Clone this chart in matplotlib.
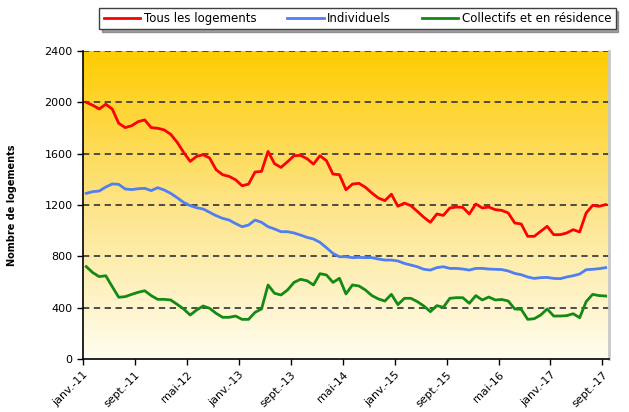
import numpy as np
import matplotlib.pyplot as plt
from matplotlib.colors import LinearSegmentedColormap

plt.rcParams['font.family'] = ['DejaVu Sans']

# séries mensuelles, janv-11 -> sept-17
tous = [2000, 1977, 1948, 1985, 1948, 1837, 1803, 1818, 1850, 1863,
        1803, 1798, 1785, 1751, 1689, 1610, 1540, 1579, 1592, 1566,
        1475, 1436, 1423, 1397, 1350, 1363, 1457, 1462, 1618, 1522,
        1493, 1537, 1584, 1587, 1561, 1519, 1584, 1545, 1441, 1436,
        1319, 1363, 1369, 1338, 1293, 1254, 1234, 1284, 1190, 1215,
        1195, 1150, 1104, 1065, 1130, 1119, 1177, 1184, 1182, 1130,
        1208, 1177, 1184, 1164, 1158, 1138, 1060, 1052, 956, 956,
        995, 1034, 969, 969, 982, 1008, 990, 1138, 1197, 1190,
        1203]
individuels = [1291, 1304, 1309, 1340, 1364, 1361, 1325, 1320, 1327, 1330,
               1312, 1335, 1317, 1291, 1257, 1220, 1195, 1179, 1169, 1143,
               1117, 1096, 1083, 1055, 1031, 1044, 1083, 1065, 1031, 1013,
               992, 992, 982, 966, 948, 935, 909, 867, 823, 797,
               797, 790, 792, 790, 790, 779, 771, 771, 764, 745,
               732, 719, 699, 693, 712, 719, 706, 706, 701, 693,
               706, 706, 701, 699, 697, 686, 667, 657, 639, 628,
               634, 636, 628, 626, 639, 649, 662, 696, 699, 704,
               712]
collectifs = [720, 673, 642, 649, 564, 481, 486, 504, 520, 532,
              494, 465, 465, 460, 426, 390, 343, 382, 413, 395,
              356, 325, 325, 335, 309, 309, 364, 390, 577, 512,
              499, 538, 597, 621, 610, 577, 665, 655, 597, 629,
              507, 577, 569, 538, 494, 468, 452, 504, 424, 473,
              473, 447, 413, 369, 416, 403, 473, 478, 478, 434,
              494, 460, 483, 460, 464, 452, 390, 387, 309, 314,
              343, 390, 335, 335, 338, 353, 322, 447, 504, 494,
              491]
tick_labels = ['janv.-11', 'sept.-11', 'mai-12', 'janv.-13', 'sept.-13', 'mai-14',
               'janv.-15', 'sept.-15', 'mai-16', 'janv.-17', 'sept.-17']

n = len(tous)
x = np.arange(n)

fig = plt.figure(figsize=(6.29, 4.12), dpi=100)
ax = fig.add_axes([0.132, 0.1286, 0.836, 0.7476])

# fond dégradé
cmap = LinearSegmentedColormap.from_list('fond', ['#fffdf0', '#fde488', '#ffcc00'])
grad = np.linspace(0, 1, 256).reshape(-1, 1)
ax.imshow(grad, extent=[-0.5, n - 0.5, 0, 2400], origin='lower', aspect='auto',
          cmap=cmap, zorder=0)

for yv in range(400, 2401, 400):
    ax.axhline(yv, color='#404040', lw=1.3, ls=(0, (3.5, 2.5)), zorder=1)

ax.plot(x, tous, color='#ff0000', lw=2, label='Tous les logements', zorder=3)
ax.plot(x, individuels, color='#4f7ff0', lw=2, label='Individuels', zorder=3)
ax.plot(x, collectifs, color='#138a13', lw=2, label='Collectifs et en résidence', zorder=3)

ax.set_xlim(-0.5, n - 0.5)
ax.set_ylim(0, 2400)
ax.set_yticks(range(0, 2401, 400))
ax.set_xticks(np.arange(len(tick_labels)) * 8 - 0.5)
ax.set_xticklabels(tick_labels, rotation=45, ha='right', rotation_mode='anchor')
ax.tick_params(labelsize=8, direction='out', length=4, width=1)

ax.spines['top'].set_visible(False)
ax.spines['right'].set_color('#c8c8c8')
ax.spines['right'].set_linewidth(2)
ax.spines['left'].set_linewidth(1.2)
ax.spines['bottom'].set_linewidth(1.2)

ax.set_ylabel('Nombre de logements', fontsize=7, fontweight='bold', labelpad=20)

leg = fig.legend(loc='upper right', bbox_to_anchor=(0.988, 0.995), ncol=3,
                 fontsize=8.5, frameon=True, fancybox=False, shadow=True,
                 edgecolor='#404040', handlelength=3.1, columnspacing=2.6,
                 borderpad=0.35, handletextpad=0.3)
leg.get_frame().set_linewidth(1)

fig.savefig('out.png', dpi=100)
